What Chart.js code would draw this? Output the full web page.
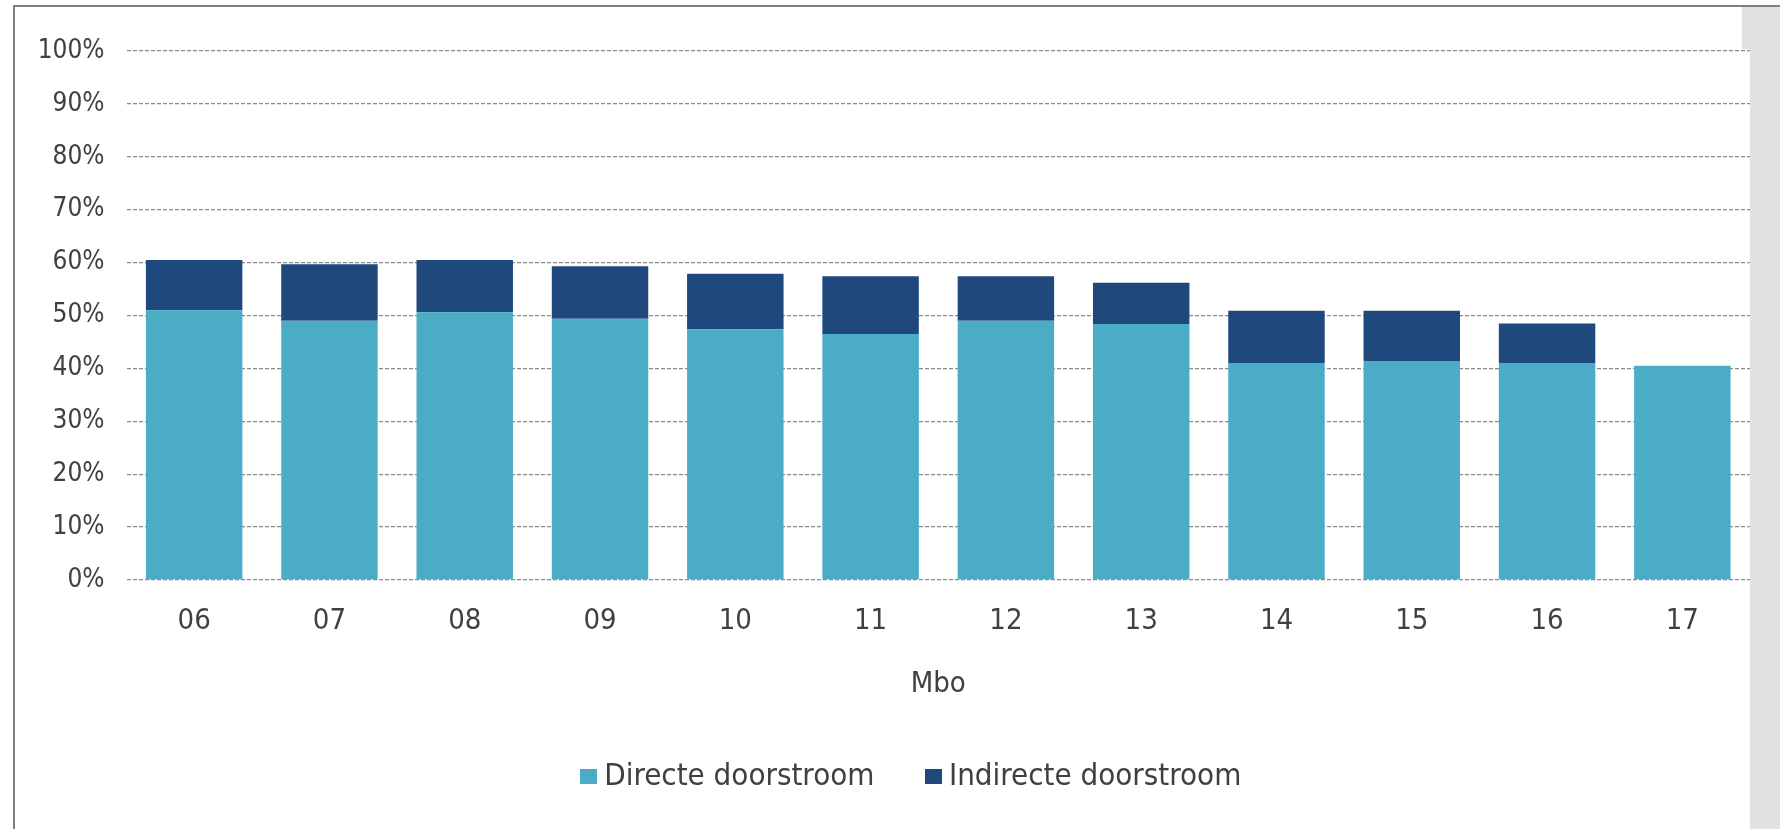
<!DOCTYPE html>
<html>
<head>
<meta charset="utf-8">
<script src="https://cdn.jsdelivr.net/npm/chart.js@4"></script>
<style>
  html, body { margin: 0; padding: 0; background: #ffffff; }
  body { width: 1780px; height: 829px; position: relative; overflow: hidden; }
  #panel { position: absolute; left: 1742px; top: 7px; width: 38px; height: 822px; background: #e1e1e1; }
  #inset { position: absolute; left: 1742px; top: 49px; width: 8px; height: 780px; background: #ffffff; }
  #topline { position: absolute; left: 13px; top: 5px; width: 1767px; height: 2px; background: #7f7f7f; }
  #leftline { position: absolute; left: 13px; top: 5px; width: 2px; height: 824px; background: #7f7f7f; }
  #wrap { position: absolute; left: 0; top: 0; width: 1780px; height: 829px; }
</style>
</head>
<body>
<div id="panel"></div>
<div id="inset"></div>
<div id="wrap"><canvas id="c" width="1780" height="829"></canvas></div>
<div id="topline"></div>
<div id="leftline"></div>
<script>
const categories = ['06', '07', '08', '09', '10', '11', '12', '13', '14', '15', '16', '17'];
const directe = [51.0, 49.0, 50.6, 49.4, 47.4, 46.5, 49.0, 48.4, 41.0, 41.4, 41.0, 40.5];
const indirecte = [9.5, 10.7, 9.9, 9.9, 10.5, 10.9, 8.4, 7.8, 9.9, 9.5, 7.5, null];
const seriesNames = ['Directe doorstroom', 'Indirecte doorstroom'];
const seriesColors = ['#4bacc6', '#1f497d'];
const axisTitle = 'Mbo';

const FONT = '"DejaVu Sans Condensed", "DejaVu Sans", sans-serif';
const TEXT = '#404040';

function squareImg(color) {
  const cv = document.createElement('canvas');
  cv.width = 17; cv.height = 15;
  const g = cv.getContext('2d');
  g.fillStyle = color;
  g.fillRect(0, 0, 17, 15);
  return cv;
}
const legendImgs = seriesColors.map(squareImg);

// shift the centred legend so that it sits under the plot like in the reference
const legendShift = {
  id: 'legendShift',
  afterLayout(chart) { if (chart.legend) { chart.legend.left = 80; } }
};

new Chart(document.getElementById('c'), {
  type: 'bar',
  data: {
    labels: categories,
    datasets: [
      { label: seriesNames[0], data: directe, backgroundColor: seriesColors[0], borderWidth: 0,
        categoryPercentage: 1, barPercentage: 0.713 },
      { label: seriesNames[1], data: indirecte, backgroundColor: seriesColors[1], borderWidth: 0,
        categoryPercentage: 1, barPercentage: 0.713 }
    ]
  },
  plugins: [legendShift],
  options: {
    responsive: false,
    animation: false,
    layout: { padding: { left: 20, right: 30, top: 51, bottom: 26.6 } },
    plugins: {
      tooltip: { enabled: false },
      legend: {
        position: 'bottom',
        align: 'center',
        labels: {
          font: { family: FONT, size: 31 },
          color: TEXT,
          usePointStyle: true,
          pointStyleWidth: 0.01,
          boxHeight: 15,
          padding: 59,
          generateLabels(chart) {
            const items = Chart.defaults.plugins.legend.labels.generateLabels(chart);
            items.forEach((it, i) => { it.pointStyle = legendImgs[i]; });
            return items;
          }
        }
      }
    },
    scales: {
      x: {
        stacked: true,
        grid: { display: false, drawTicks: false },
        border: { display: false },
        ticks: { font: { family: FONT, size: 29 }, color: TEXT, padding: 24, maxRotation: 0 },
        title: { display: true, text: axisTitle, font: { family: FONT, size: 29 }, color: TEXT,
                 padding: { top: 0, bottom: 1 } },
        afterFit(s) { s.height = 122.4; }
      },
      y: {
        stacked: true,
        min: 0, max: 100,
        ticks: { stepSize: 10, callback: v => v + '%', font: { family: FONT, size: 26 }, color: TEXT, padding: 22 },
        grid: { color: '#8a8a8a', lineWidth: 1.3, drawTicks: false },
        border: { display: false, dash: [4, 2] },
        afterFit(s) { s.width = 106.5; }
      }
    }
  }
});
</script>
</body>
</html>
